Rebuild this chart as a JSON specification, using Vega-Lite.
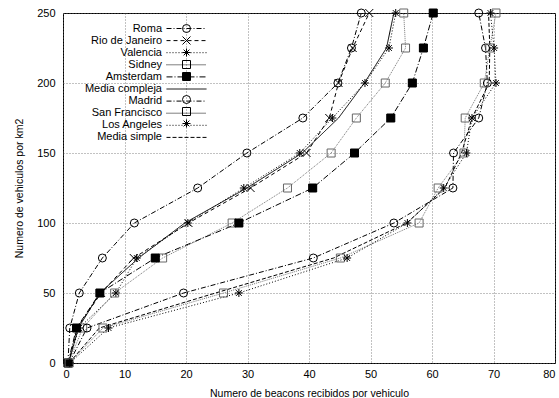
{
  "$schema": "https://vega.github.io/schema/vega-lite/v6.json",
  "width": 492,
  "height": 350,
  "autosize": "none",
  "padding": {"left": 63, "top": 13, "right": 4, "bottom": 35},
  "background": "white",
  "config": {
    "view": {"stroke": "black", "strokeWidth": 1},
    "font": "Liberation Sans",
    "axis": {"grid": true, "gridColor": "#666", "gridDash": [1, 2], "gridWidth": 0.8, "ticks": false, "domain": false,
      "labelFont": "Liberation Sans", "labelFontSize": 11, "labelColor": "black",
      "titleFont": "Liberation Sans", "titleFontSize": 10.5, "titleFontWeight": "normal", "titleColor": "black"}
  },
  "data": {"values": [
    {"serie": "Roma", "x": 0.8, "y": 0}, {"serie": "Roma", "x": 1.1, "y": 25}, {"serie": "Roma", "x": 2.65, "y": 50}, {"serie": "Roma", "x": 6.4, "y": 75}, {"serie": "Roma", "x": 11.6, "y": 100}, {"serie": "Roma", "x": 21.9, "y": 125}, {"serie": "Roma", "x": 29.9, "y": 150}, {"serie": "Roma", "x": 39.0, "y": 175}, {"serie": "Roma", "x": 44.7, "y": 200}, {"serie": "Roma", "x": 46.9, "y": 225}, {"serie": "Roma", "x": 48.5, "y": 250},
    {"serie": "Rio de Janeiro", "x": 0.9, "y": 0}, {"serie": "Rio de Janeiro", "x": 2.3, "y": 25}, {"serie": "Rio de Janeiro", "x": 6.2, "y": 50}, {"serie": "Rio de Janeiro", "x": 11.5, "y": 75}, {"serie": "Rio de Janeiro", "x": 20.4, "y": 100}, {"serie": "Rio de Janeiro", "x": 30.5, "y": 125}, {"serie": "Rio de Janeiro", "x": 39.6, "y": 150}, {"serie": "Rio de Janeiro", "x": 43.3, "y": 175}, {"serie": "Rio de Janeiro", "x": 44.8, "y": 200}, {"serie": "Rio de Janeiro", "x": 47.1, "y": 225}, {"serie": "Rio de Janeiro", "x": 49.8, "y": 250},
    {"serie": "Valencia", "x": 0.9, "y": 0}, {"serie": "Valencia", "x": 2.6, "y": 25}, {"serie": "Valencia", "x": 8.6, "y": 50}, {"serie": "Valencia", "x": 12.0, "y": 75}, {"serie": "Valencia", "x": 20.3, "y": 100}, {"serie": "Valencia", "x": 29.4, "y": 125}, {"serie": "Valencia", "x": 38.5, "y": 150}, {"serie": "Valencia", "x": 43.8, "y": 175}, {"serie": "Valencia", "x": 49.1, "y": 200}, {"serie": "Valencia", "x": 53.0, "y": 225}, {"serie": "Valencia", "x": 54.1, "y": 250},
    {"serie": "Sidney", "x": 0.9, "y": 0}, {"serie": "Sidney", "x": 3.2, "y": 25}, {"serie": "Sidney", "x": 8.4, "y": 50}, {"serie": "Sidney", "x": 16.2, "y": 75}, {"serie": "Sidney", "x": 27.5, "y": 100}, {"serie": "Sidney", "x": 36.5, "y": 125}, {"serie": "Sidney", "x": 43.6, "y": 150}, {"serie": "Sidney", "x": 47.7, "y": 175}, {"serie": "Sidney", "x": 52.4, "y": 200}, {"serie": "Sidney", "x": 55.7, "y": 225}, {"serie": "Sidney", "x": 55.4, "y": 250},
    {"serie": "Amsterdam", "x": 0.8, "y": 0}, {"serie": "Amsterdam", "x": 2.2, "y": 25}, {"serie": "Amsterdam", "x": 6.0, "y": 50}, {"serie": "Amsterdam", "x": 15.0, "y": 75}, {"serie": "Amsterdam", "x": 28.6, "y": 100}, {"serie": "Amsterdam", "x": 40.6, "y": 125}, {"serie": "Amsterdam", "x": 47.4, "y": 150}, {"serie": "Amsterdam", "x": 53.3, "y": 175}, {"serie": "Amsterdam", "x": 56.8, "y": 200}, {"serie": "Amsterdam", "x": 58.6, "y": 225}, {"serie": "Amsterdam", "x": 60.2, "y": 250},
    {"serie": "Media compleja", "x": 0.9, "y": 0}, {"serie": "Media compleja", "x": 2.5, "y": 25}, {"serie": "Media compleja", "x": 6.0, "y": 50}, {"serie": "Media compleja", "x": 12.3, "y": 75}, {"serie": "Media compleja", "x": 19.8, "y": 100}, {"serie": "Media compleja", "x": 29.9, "y": 125}, {"serie": "Media compleja", "x": 38.9, "y": 150}, {"serie": "Media compleja", "x": 44.8, "y": 175}, {"serie": "Media compleja", "x": 49.0, "y": 200}, {"serie": "Media compleja", "x": 52.6, "y": 225}, {"serie": "Media compleja", "x": 53.8, "y": 250},
    {"serie": "Madrid", "x": 1.0, "y": 0}, {"serie": "Madrid", "x": 3.9, "y": 25}, {"serie": "Madrid", "x": 19.6, "y": 50}, {"serie": "Madrid", "x": 40.7, "y": 75}, {"serie": "Madrid", "x": 53.8, "y": 100}, {"serie": "Madrid", "x": 63.4, "y": 125}, {"serie": "Madrid", "x": 63.5, "y": 150}, {"serie": "Madrid", "x": 67.6, "y": 175}, {"serie": "Madrid", "x": 69.0, "y": 200}, {"serie": "Madrid", "x": 68.7, "y": 225}, {"serie": "Madrid", "x": 67.6, "y": 250},
    {"serie": "San Francisco", "x": 1.0, "y": 0}, {"serie": "San Francisco", "x": 6.5, "y": 25}, {"serie": "San Francisco", "x": 26.1, "y": 50}, {"serie": "San Francisco", "x": 45.1, "y": 75}, {"serie": "San Francisco", "x": 57.9, "y": 100}, {"serie": "San Francisco", "x": 61.0, "y": 125}, {"serie": "San Francisco", "x": 65.2, "y": 150}, {"serie": "San Francisco", "x": 65.4, "y": 175}, {"serie": "San Francisco", "x": 68.5, "y": 200}, {"serie": "San Francisco", "x": 69.4, "y": 225}, {"serie": "San Francisco", "x": 70.4, "y": 250},
    {"serie": "Los Angeles", "x": 1.1, "y": 0}, {"serie": "Los Angeles", "x": 7.4, "y": 25}, {"serie": "Los Angeles", "x": 28.6, "y": 50}, {"serie": "Los Angeles", "x": 46.2, "y": 75}, {"serie": "Los Angeles", "x": 56.0, "y": 100}, {"serie": "Los Angeles", "x": 61.9, "y": 125}, {"serie": "Los Angeles", "x": 65.6, "y": 150}, {"serie": "Los Angeles", "x": 66.5, "y": 175}, {"serie": "Los Angeles", "x": 70.4, "y": 200}, {"serie": "Los Angeles", "x": 70.1, "y": 225}, {"serie": "Los Angeles", "x": 69.5, "y": 250},
    {"serie": "Media simple", "x": 1.0, "y": 0}, {"serie": "Media simple", "x": 5.9, "y": 25}, {"serie": "Media simple", "x": 24.8, "y": 50}, {"serie": "Media simple", "x": 44.0, "y": 75}, {"serie": "Media simple", "x": 55.9, "y": 100}, {"serie": "Media simple", "x": 62.1, "y": 125}, {"serie": "Media simple", "x": 64.8, "y": 150}, {"serie": "Media simple", "x": 66.5, "y": 175}, {"serie": "Media simple", "x": 69.3, "y": 200}, {"serie": "Media simple", "x": 69.4, "y": 225}, {"serie": "Media simple", "x": 69.2, "y": 250}
  ]},
  "encoding": {
    "x": {"field": "x", "type": "quantitative", "scale": {"domain": [0, 80], "nice": false},
      "axis": {"values": [0, 10, 20, 30, 40, 50, 60, 70, 80], "title": "Numero de beacons recibidos por vehiculo", "labelPadding": 5, "titlePadding": 9}},
    "y": {"field": "y", "type": "quantitative", "scale": {"domain": [0, 250], "nice": false},
      "axis": {"values": [0, 50, 100, 150, 200, 250], "title": "Numero de vehiculos por km2", "labelPadding": 8, "titlePadding": 12}}
  },
  "layer": [
    {
      "mark": {"type": "line", "strokeWidth": 1, "clip": true},
      "encoding": {
        "order": {"field": "y", "type": "quantitative"},
        "strokeDash": {"field": "serie", "type": "nominal",
          "scale": {"domain": ["Roma", "Rio de Janeiro", "Valencia", "Sidney", "Amsterdam", "Media compleja", "Madrid", "San Francisco", "Los Angeles", "Media simple"],
            "range": [[5, 2, 1, 2], [4, 3], [1, 2], [1, 1], [6, 2, 1, 2], [1, 0], [5, 2, 1, 2], [1, 1], [1, 2], [4, 2]]},
          "legend": {"orient": "none", "legendX": 118, "legendY": 10, "title": null, "symbolType": "M-5,0H5", "symbolSize": 64,
            "symbolStrokeWidth": 1, "symbolStrokeColor": "black", "labelAlign": "right", "labelOffset": -30,
            "labelFontSize": 11, "labelFont": "Liberation Sans", "labelColor": "black", "rowPadding": 0.1, "padding": 0, "labelLimit": 200}},
        "stroke": {"condition": {"test": "datum.serie === 'Sidney' || datum.serie === 'San Francisco'", "value": "#777"}, "value": "black"}
      }
    },
    {
      "mark": {"type": "point", "size": 64, "strokeWidth": 1, "opacity": 1, "filled": false},
      "encoding": {
        "shape": {"field": "serie", "type": "nominal",
          "sort": ["Roma", "Rio de Janeiro", "Valencia", "Sidney", "Amsterdam", "Media compleja", "Madrid", "San Francisco", "Los Angeles", "Media simple"],
          "scale": {"range": ["circle", "M-1,-1L1,1M-1,1L1,-1", "M-1,0L1,0M0,-1L0,1M-0.72,-0.72L0.72,0.72M-0.72,0.72L0.72,-0.72", "square", "M-1,-1H1V1H-1ZM-1,-0.75H1M-1,-0.5H1M-1,-0.25H1M-1,0H1M-1,0.25H1M-1,0.5H1M-1,0.75H1", "M0,0", "circle", "square", "M-1,0L1,0M0,-1L0,1M-0.72,-0.72L0.72,0.72M-0.72,0.72L0.72,-0.72", "M0,0"]},
          "legend": {"orient": "none", "legendX": 118, "legendY": 10, "title": null, "symbolSize": 64, "symbolStrokeWidth": 1,
            "symbolStrokeColor": "black", "labelExpr": "' '", "labelFontSize": 11, "labelFont": "Liberation Sans", "rowPadding": -1.45, "padding": 0}},
        "fill": {"condition": {"test": "datum.serie === 'Amsterdam'", "value": "black"}, "value": "transparent"},
        "stroke": {"condition": {"test": "datum.serie === 'Sidney' || datum.serie === 'San Francisco'", "value": "#666"}, "value": "black"}
      }
    }
  ]
}
